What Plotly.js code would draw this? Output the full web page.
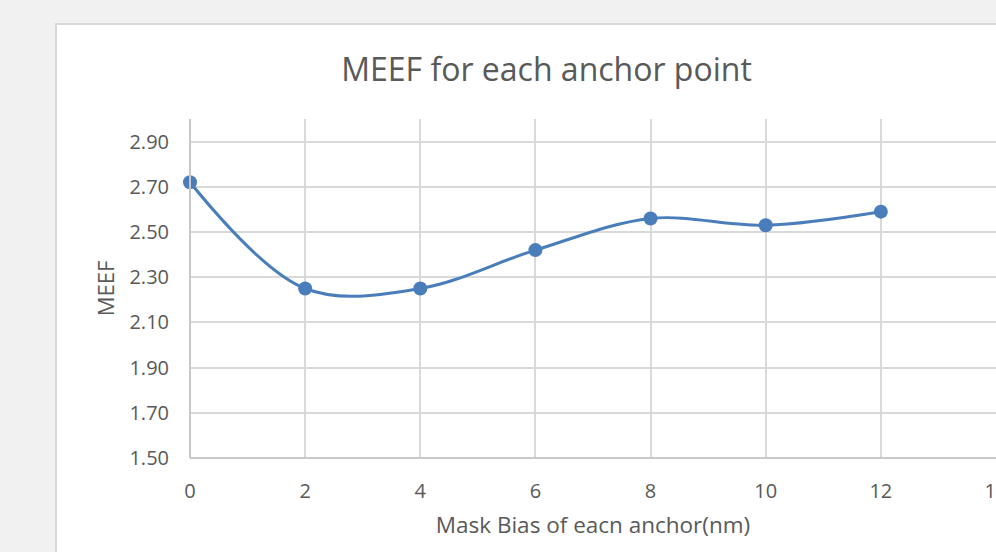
<!DOCTYPE html>
<html>
<head>
<meta charset="utf-8">
<script src="https://cdn.plot.ly/plotly-3.0.1.min.js"></script>
<style>
  html, body { margin: 0; padding: 0; width: 996px; height: 552px; overflow: hidden; background: #f1f1f1; }
  #box { position: absolute; left: 55px; top: 23px; width: 982px; height: 560px; border: 2px solid #d9d9d9; background: #ffffff; }
  #chart { width: 982px; height: 560px; }
</style>
</head>
<body>
<div id="box"><div id="chart"></div></div>
<script>
const maskBias = [0, 2, 4, 6, 8, 10, 12];
const meefValues = [2.72, 2.25, 2.25, 2.42, 2.56, 2.53, 2.59];
const yTickValues = [1.5, 1.7, 1.9, 2.1, 2.3, 2.5, 2.7, 2.9];
const yTickLabels = ['1.50', '1.70', '1.90', '2.10', '2.30', '2.50', '2.70', '2.90'];
const xTickValues = [0, 2, 4, 6, 8, 10, 12, 14];
const xTickLabels = ['0', '2', '4', '6', '8', '10', '12', '14'];

const textColor = '#595959';
const fontFamily = '"Open Sans", "Noto Sans", sans-serif';

const trace = {
  x: maskBias,
  y: meefValues,
  type: 'scatter',
  mode: 'lines+markers',
  line: { color: '#4a7ebb', width: 3, shape: 'spline', smoothing: 1 },
  marker: { color: '#4a7ebb', size: 14 },
  cliponaxis: false,
  hoverinfo: 'x+y'
};

const layout = {
  width: 982,
  height: 560,
  margin: { l: 133, r: 42.6, t: 94.4, b: 127 },
  paper_bgcolor: '#ffffff',
  plot_bgcolor: '#ffffff',
  showlegend: false,
  font: { family: fontFamily, color: textColor },
  title: {
    text: 'MEEF for each anchor point',
    font: { family: fontFamily, size: 32, color: textColor },
    xref: 'container', x: 0.4985, xanchor: 'center',
    yref: 'container', y: 1 - 45 / 560, yanchor: 'middle'
  },
  xaxis: {
    range: [0, 14],
    tickvals: xTickValues,
    ticktext: xTickLabels,
    showgrid: true,
    gridcolor: '#d9d9d9',
    gridwidth: 2,
    zeroline: false,
    showline: false,
    ticks: '',
    ticklabelstandoff: 19,
    tickfont: { family: fontFamily, size: 20, color: textColor },
    title: { text: 'Mask Bias of eacn anchor(nm)', font: { family: fontFamily, size: 22.5, color: textColor }, standoff: 14 }
  },
  yaxis: {
    range: [1.5, 3.0],
    tickvals: yTickValues,
    ticktext: yTickLabels,
    showgrid: true,
    gridcolor: '#d9d9d9',
    gridwidth: 2,
    zeroline: false,
    showline: false,
    ticks: '',
    ticklabelstandoff: 20,
    tickfont: { family: fontFamily, size: 20, color: textColor },
    title: { text: 'MEEF', font: { family: fontFamily, size: 22, color: textColor }, standoff: 8 }
  },
  shapes: [
    { type: 'line', xref: 'paper', yref: 'paper', x0: 0, x1: 1, y0: 0, y1: 0, line: { color: '#c8c8c8', width: 2 } },
    { type: 'line', xref: 'paper', yref: 'paper', x0: 0, x1: 0, y0: 0, y1: 1, line: { color: '#c8c8c8', width: 2 } }
  ]
};

Plotly.newPlot('chart', [trace], layout, { displayModeBar: false, staticPlot: true });
</script>
</body>
</html>
